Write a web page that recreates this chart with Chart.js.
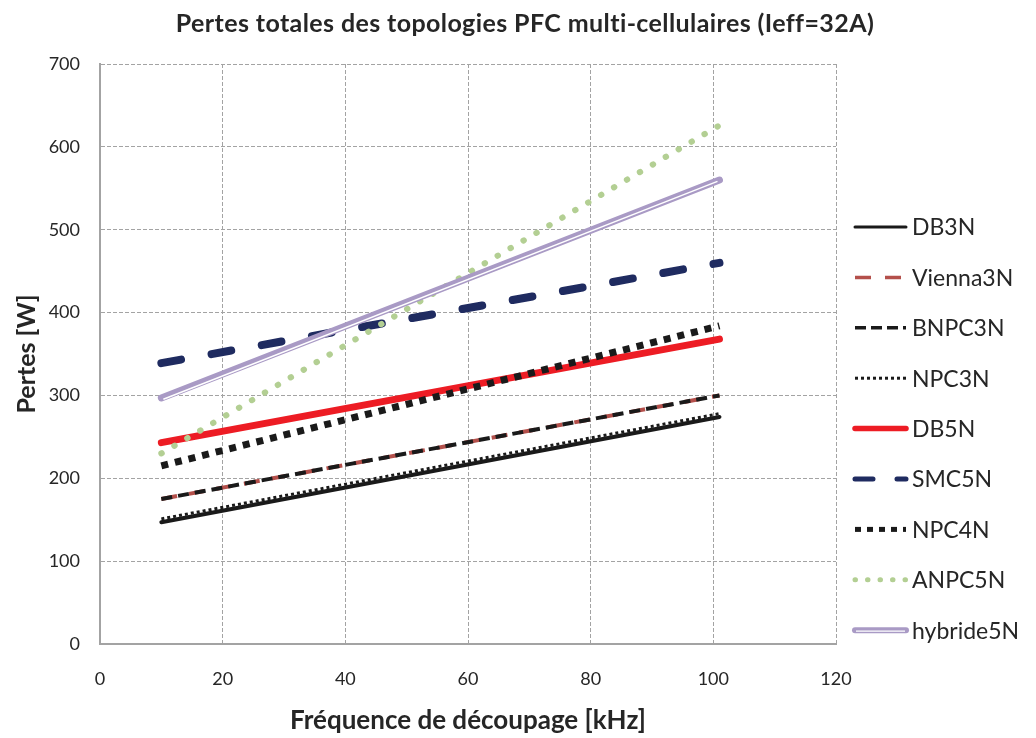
<!DOCTYPE html>
<html>
<head>
<meta charset="utf-8">
<script src="https://cdn.jsdelivr.net/npm/chart.js@4"></script>
<style>
  body { margin: 0; background: #fff; }
  #wrap { width: 1036px; height: 738px; }
</style>
</head>
<body>
<div id="wrap"><canvas id="pertesChart"></canvas></div>
<script>
// Data (kHz -> W)
const freq = [10, 101];
const db3n = [147, 274];
const vienna3n = [175, 300];
const bnpc3n = [175, 300];
const npc3n = [151, 278];
const db5n = [243, 368];
const smc5n = [339, 460];
const npc4n = [215, 384];
const anpc5n = [230, 626];
const hybride5n = [297, 560];

const xTicks = [0, 20, 40, 60, 80, 100, 120];
const yTicks = [0, 100, 200, 300, 400, 500, 600, 700];

const chartTitle = 'Pertes totales des topologies PFC multi-cellulaires (Ieff=32A)';

const toPoints = vals => vals.map((v, i) => ({ x: freq[i], y: v }));

const gridColor = '#a3a3a3';
const textColor = '#262626';

// Series styles
const series = [
  { label: 'DB3N', data: db3n, color: '#1a1a1a', width: 4, dash: [], cap: 'round', lw: 3, ld: [] },
  { label: 'Vienna3N', data: vienna3n, color: '#b4504b', width: 4, dash: [16, 12], cap: 'butt', lw: 3.5, ld: [16, 14] },
  { label: 'BNPC3N', data: bnpc3n, color: '#1a1a1a', width: 4, dash: [11, 6], cap: 'butt', lw: 3.5, ld: [11, 5] },
  { label: 'NPC3N', data: npc3n, color: '#1a1a1a', width: 3, dash: [3, 3], cap: 'butt', lw: 3, ld: [3, 3] },
  { label: 'DB5N', data: db5n, color: '#ed1c24', width: 7, dash: [], cap: 'round', lw: 5.5, ld: [] },
  { label: 'SMC5N', data: smc5n, color: '#1f2b60', width: 8, dash: [20, 31], cap: 'round', lw: 5, ld: [18, 24] },
  { label: 'NPC4N', data: npc4n, color: '#1a1a1a', width: 7, dash: [7, 7], cap: 'butt', lw: 5, ld: [6, 6] },
  { label: 'ANPC5N', data: anpc5n, color: '#b3cf93', width: 6, dash: [0.5, 14.5], cap: 'round', lw: 5, ld: [0.5, 12] },
  { label: 'hybride5N', data: hybride5n, color: '#a99ac5', width: 7, dash: [], cap: 'round', lw: 6, ld: [], inner: '#ffffff' }
];

// white core of the double line (hybride5N)
const doubleLinePlugin = {
  id: 'doubleLine',
  afterDatasetDraw(chart, args) {
    const ds = chart.data.datasets[args.index];
    if (!ds.innerColor) return;
    const pts = args.meta.data;
    const ctx = chart.ctx;
    ctx.save();
    ctx.strokeStyle = ds.innerColor;
    ctx.lineWidth = 1.5;
    ctx.lineCap = 'butt';
    ctx.beginPath();
    pts.forEach((p, i) => {
      if (i === 0) ctx.moveTo(p.x + 2, p.y + 1.4);
      else ctx.lineTo(p.x - 2, p.y + 1.4);
    });
    ctx.stroke();
    ctx.restore();
  }
};

// title centred on the whole canvas
const titlePlugin = {
  id: 'pageTitle',
  afterDraw(chart) {
    const ctx = chart.ctx;
    ctx.save();
    ctx.fillStyle = textColor;
    ctx.font = 'bold 25px Lato';
    ctx.letterSpacing = '0.4px';
    ctx.textAlign = 'center';
    ctx.textBaseline = 'middle';
    ctx.fillText(chartTitle, chart.width / 2 + 7, 24);
    ctx.restore();
  }
};

// legend on the right
const sideLegend = {
  id: 'sideLegend',
  afterDraw(chart) {
    const ctx = chart.ctx;
    const x0 = chart.chartArea.right + 19;
    const x1 = x0 + 51;
    chart.data.datasets.forEach((ds, i) => {
      const y = 227 + i * 50.4;
      ctx.save();
      ctx.strokeStyle = ds.borderColor;
      ctx.lineWidth = ds.legendWidth;
      ctx.lineCap = ds.borderCapStyle;
      ctx.setLineDash(ds.legendDash);
      ctx.beginPath();
      ctx.moveTo(x0, y);
      ctx.lineTo(x1, y);
      ctx.stroke();
      if (ds.innerColor) {
        ctx.strokeStyle = ds.innerColor;
        ctx.lineWidth = 1.3;
        ctx.lineCap = 'butt';
        ctx.beginPath();
        ctx.moveTo(x0 + 1, y + 1);
        ctx.lineTo(x1 - 1, y + 1);
        ctx.stroke();
      }
      ctx.setLineDash([]);
      ctx.fillStyle = textColor;
      ctx.font = '23px Lato';
      ctx.textAlign = 'left';
      ctx.textBaseline = 'middle';
      ctx.fillText(ds.label, x1 + 6, y + 1);
      ctx.restore();
    });
  }
};

new Chart(document.getElementById('pertesChart'), {
  type: 'line',
  data: {
    datasets: series.map((s, i) => ({
      label: s.label,
      data: toPoints(s.data),
      borderColor: s.color,
      backgroundColor: s.color,
      borderWidth: s.width,
      borderDash: s.dash,
      borderCapStyle: s.cap,
      borderJoinStyle: 'round',
      pointRadius: 0,
      fill: false,
      tension: 0,
      order: -i,
      legendWidth: s.lw,
      legendDash: s.ld,
      innerColor: s.inner
    }))
  },
  options: {
    responsive: true,
    maintainAspectRatio: false,
    animation: false,
    layout: { padding: { left: 0, right: 200, top: 64, bottom: 0 } },
    plugins: {
      legend: { display: false },
      tooltip: { enabled: false },
      title: { display: false }
    },
    scales: {
      x: {
        type: 'linear',
        min: 0,
        max: 120,
        afterBuildTicks: s => { s.ticks = xTicks.map(v => ({ value: v })); },
        afterFit: s => { s.height = 94; },
        ticks: { color: textColor, font: { family: 'Lato', size: 18 }, padding: 24 },
        grid: { color: gridColor, drawTicks: false, lineWidth: 1 },
        border: { color: gridColor, width: 2, dash: [4, 2] },
        title: {
          display: true,
          text: 'Fréquence de découpage [kHz]',
          color: textColor,
          font: { family: 'Lato', size: 26, weight: 'bold' },
          padding: { top: 0, bottom: 2 }
        }
      },
      y: {
        min: 0,
        max: 700,
        afterBuildTicks: s => { s.ticks = yTicks.map(v => ({ value: v })); },
        afterFit: s => { s.width = 100; },
        ticks: { color: textColor, font: { family: 'Lato', size: 18 }, padding: 20 },
        grid: { color: gridColor, drawTicks: false, lineWidth: 1 },
        border: { color: gridColor, width: 2, dash: [4, 2] },
        title: {
          display: true,
          text: 'Pertes [W]',
          color: textColor,
          font: { family: 'Lato', size: 25, weight: 'bold' },
          padding: { top: 12, bottom: 0 }
        }
      }
    }
  },
  plugins: [doubleLinePlugin, titlePlugin, sideLegend]
});
</script>
</body>
</html>
